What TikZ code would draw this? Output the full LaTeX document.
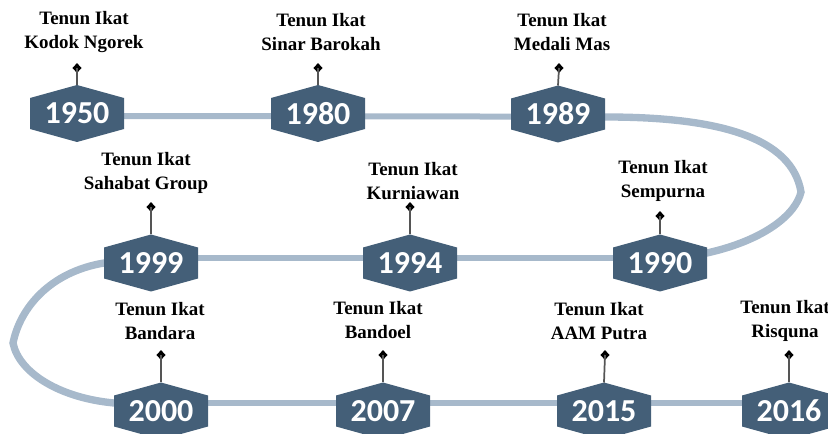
\documentclass[tikz,border=0pt]{standalone}
\usepackage{fontspec}
\setmainfont{Liberation Serif}
\newfontfamily\yearfont{Carlito}
\usetikzlibrary{calc,backgrounds,shapes.geometric}
\definecolor{hexblue}{HTML}{445F78}
\definecolor{track}{HTML}{A7B9CB}
\definecolor{pingray}{HTML}{555555}
\newcommand\hexfillat[1]{\fill[hexblue] ($(#1.north west)!0.228!(#1.south west)$) -- (#1.north) -- ($(#1.north east)!0.228!(#1.south east)$) -- ($(#1.south east)!0.228!(#1.north east)$) -- (#1.south) -- ($(#1.south west)!0.228!(#1.north west)$) -- cycle;}
\tikzset{
  yearbox/.style={shape=rectangle, inner sep=0pt, outer sep=0pt, minimum width=70.5pt, minimum height=42.75pt, text=white, font=\yearfont\bfseries\fontsize{24}{24}\selectfont},
  firmlabel/.style={align=center, inner sep=0pt, font=\bfseries\fontsize{14.2}{18}\selectfont},
  pinhead/.style={shape=diamond, fill=black, inner sep=0pt, minimum width=7pt, minimum height=7.5pt},
  pinline/.style={draw=pingray, line width=1.3pt},
  trackline/.style={draw=track, line width=4.5pt},
  trackcurve/.style={draw=track, line width=5.5pt, line join=miter},
}
\begin{document}
\begin{tikzpicture}[x=0.75pt, y=-0.75pt]
\useasboundingbox (0,0) rectangle (828,434);
\clip (0,0) rectangle (828,434);
% year nodes
\node[yearbox] (y1950) at (77,113.5) {1950};
\node[yearbox] (y1980) at (318,113.5) {1980};
\node[yearbox] (y1989) at (558,114) {1989};
\node[yearbox] (y1999) at (151,263) {1999};
\node[yearbox] (y1994) at (410,263) {1994};
\node[yearbox] (y1990) at (660,263) {1990};
\node[yearbox] (y2000) at (161,411) {2000};
\node[yearbox] (y2007) at (383,411) {2007};
\node[yearbox] (y2015) at (604,411) {2015};
\node[yearbox] (y2016) at (789,411) {2016};
% labels
\node[firmlabel] (l1950) at (84,32) {Tenun Ikat\\Kodok Ngorek};
\node[firmlabel] (l1980) at (321,32) {Tenun Ikat\\Sinar Barokah};
\node[firmlabel] (l1989) at (562,32) {Tenun Ikat\\Medali Mas};
\node[firmlabel] (l1999) at (146,173) {Tenun Ikat\\Sahabat Group};
\node[firmlabel] (l1994) at (413,181) {Tenun Ikat\\Kurniawan};
\node[firmlabel] (l1990) at (663,181) {Tenun Ikat\\Sempurna};
\node[firmlabel] (l2000) at (160,321) {Tenun Ikat\\Bandara};
\node[firmlabel] (l2007) at (378,320) {Tenun Ikat\\Bandoel};
\node[firmlabel] (l2015) at (599,321) {Tenun Ikat\\AAM Putra};
\node[firmlabel] (l2016) at (785,321) {Tenun Ikat\\Risquna};
% pin heads
\node[pinhead] (p1950) at (77,68) {};
\node[pinhead] (p1980) at (318,68) {};
\node[pinhead] (p1989) at (559,68) {};
\node[pinhead] (p1999) at (151,207) {};
\node[pinhead] (p1994) at (410,207) {};
\node[pinhead] (p1990) at (660,216) {};
\node[pinhead] (p2000) at (161,355) {};
\node[pinhead] (p2007) at (383,355) {};
\node[pinhead] (p2015) at (605,355) {};
\node[pinhead] (p2016) at (789,355) {};
\foreach \n in {1950,1980,1989,1999,1994,1990,2000,2007,2015,2016}{
  \draw[pinline] (y\n.north) -- (p\n.center);
}
\begin{scope}[on background layer]
  \draw[trackline] ([yshift=-2pt]y1950.center) -- ([yshift=-2pt]y1980.center) -- ([yshift=-2pt]y1989.center);
  \coordinate (rtip) at (801,192);
  \coordinate (ltip) at (13,343);
  \draw[trackcurve] ([yshift=-2pt]y1989.center) -- (606,117) .. controls (720,117) and (792,138) .. (rtip)
        .. controls (796,214) and (765,240) .. (707,253) -- (y1990.center);
  \draw[trackline] ([yshift=4pt]y1999.center) -- ([yshift=4pt]y1994.center) -- ([yshift=4pt]y1990.center);
  \draw[trackcurve] (y1999.center) -- (104,263) .. controls (50,272) and (20,308) .. (ltip)
        .. controls (19,373) and (60,398) .. (114,403) -- ([yshift=6pt]y2000.center);
  \draw[trackline] ([yshift=6pt]y2000.center) -- ([yshift=6pt]y2007.center) -- ([yshift=6pt]y2015.center) -- ([yshift=6pt]y2016.center);
  \foreach \n in {1950,1980,1989,1999,1994,1990,2000,2007,2015,2016}{
    \hexfillat{y\n}
  }
\end{scope}
\end{tikzpicture}
\end{document}
